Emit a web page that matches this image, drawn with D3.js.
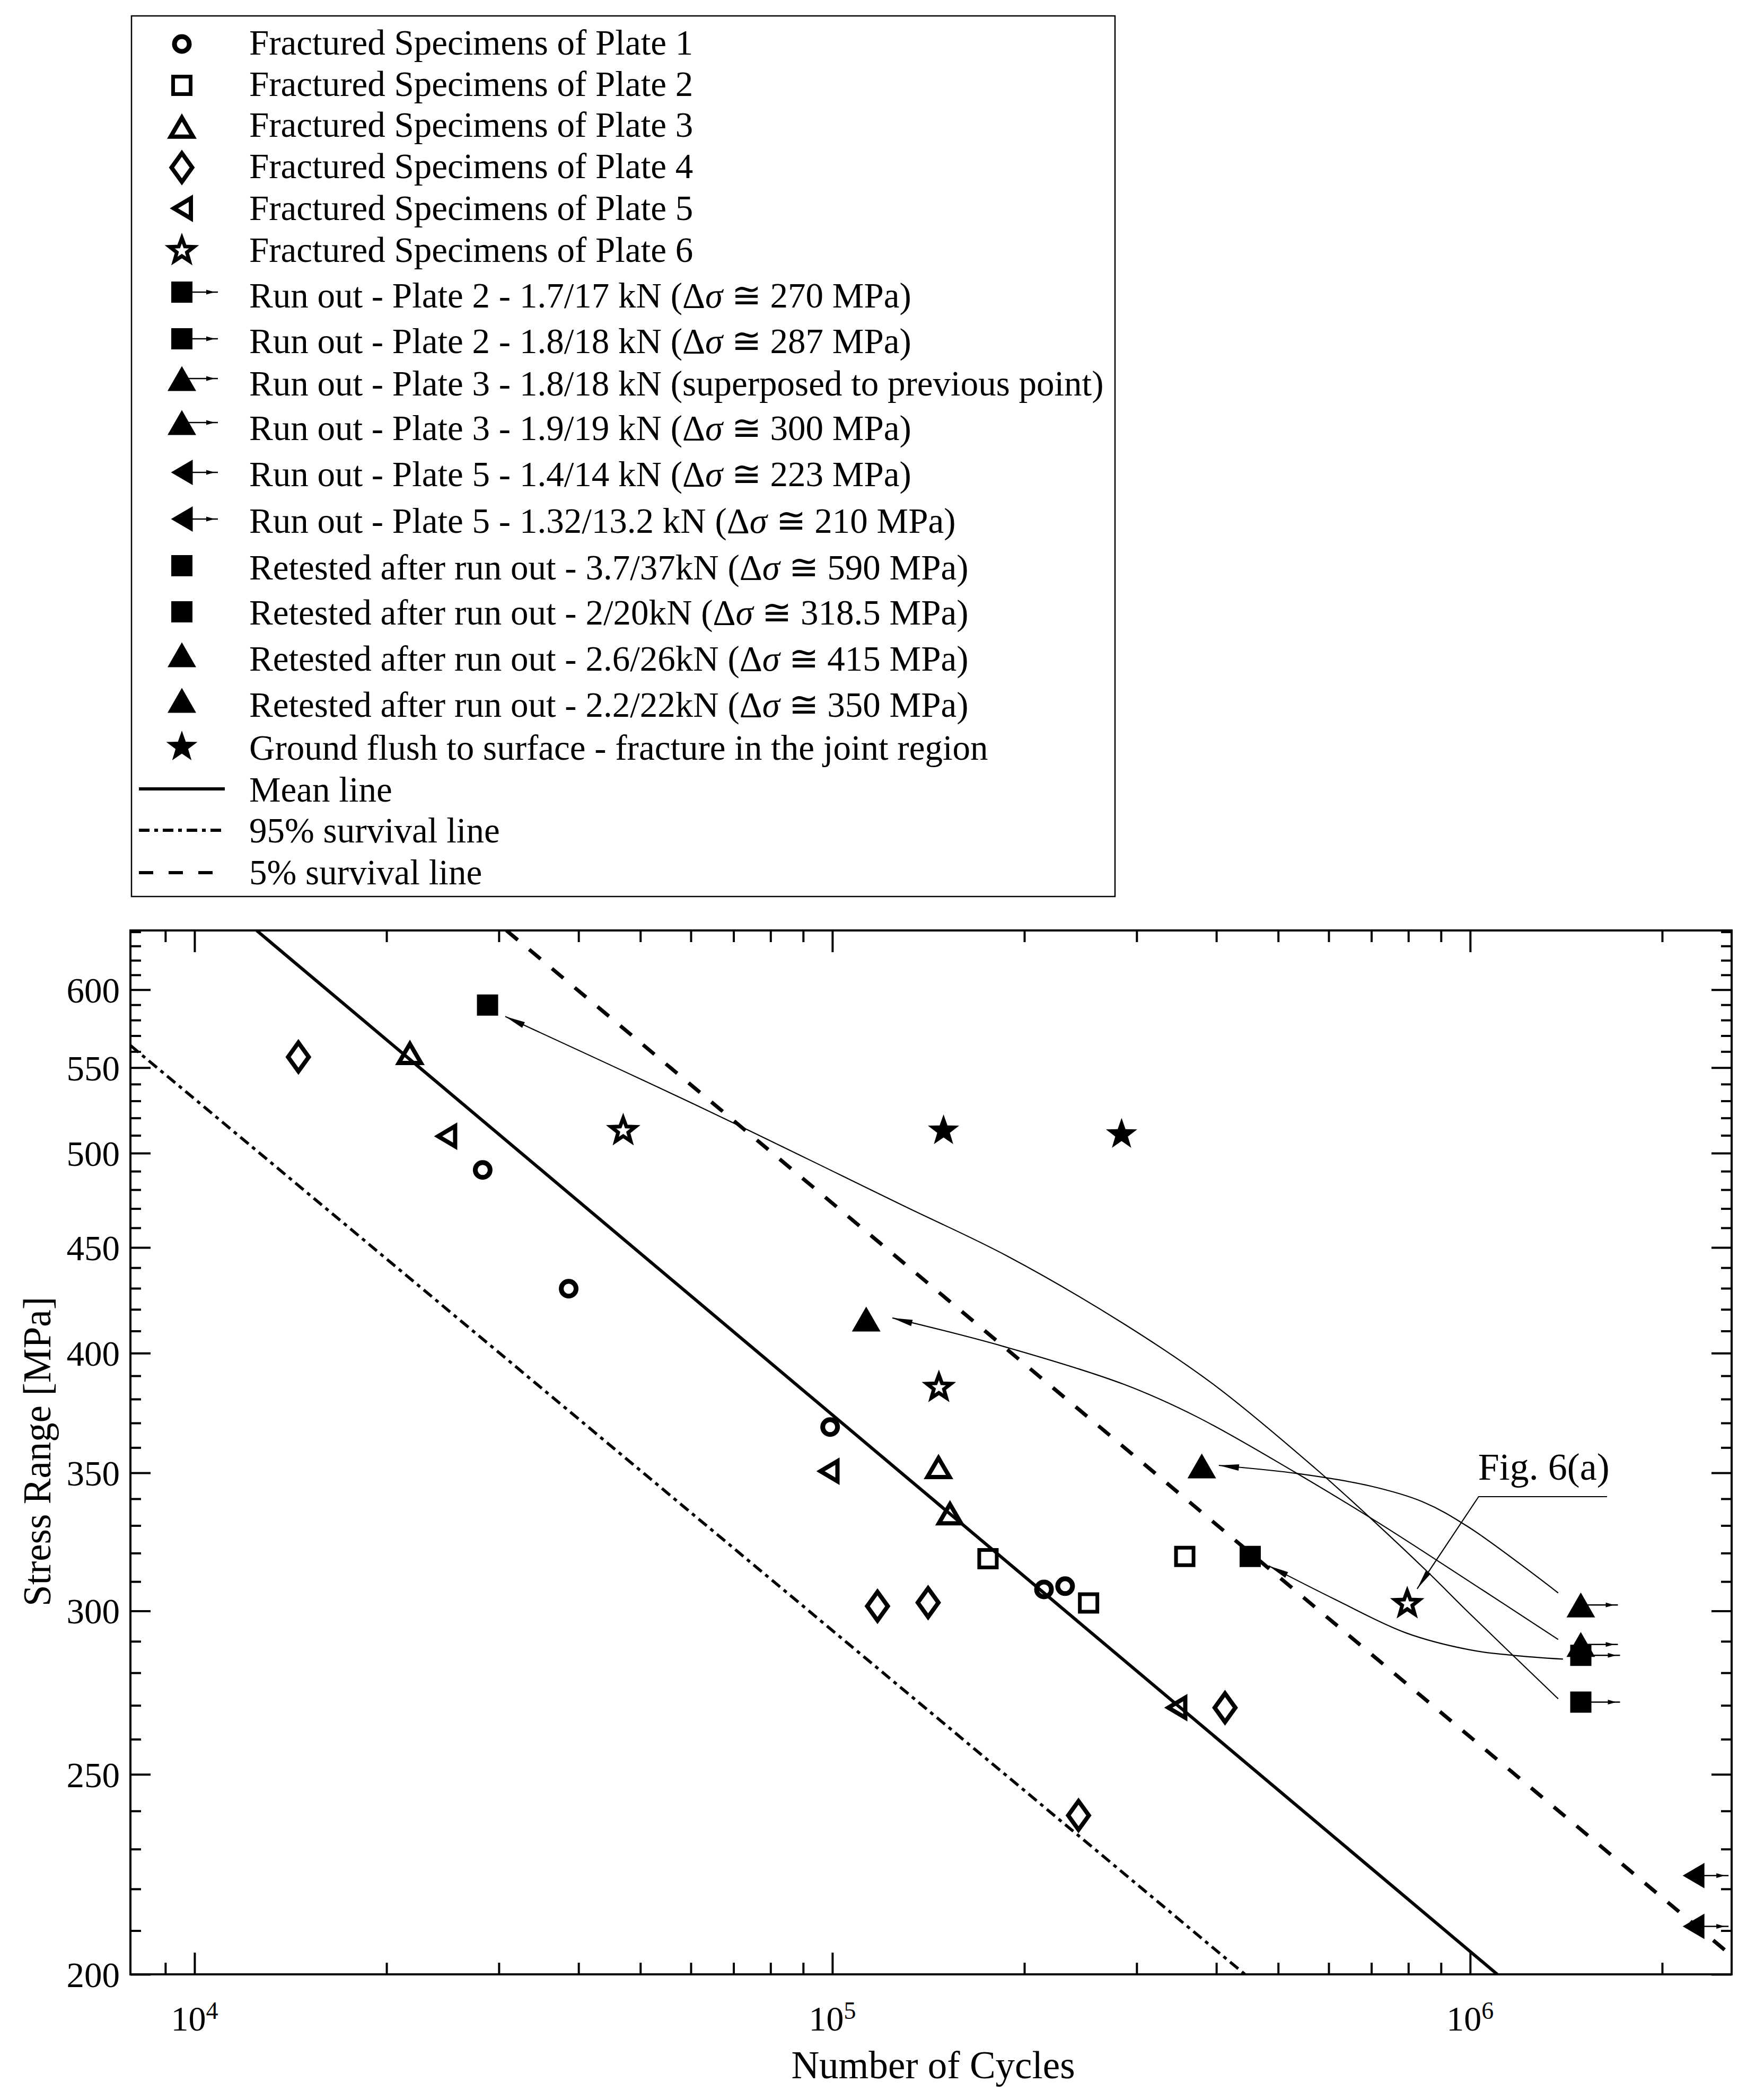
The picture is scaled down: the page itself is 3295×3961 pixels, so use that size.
<!DOCTYPE html>
<html><head><meta charset="utf-8">
<script src="https://cdn.jsdelivr.net/npm/d3@7"></script>
<style>
body{margin:0;background:#fff}
svg{display:block;background:#fff}
text{font-family:"Liberation Serif","Times New Roman",serif;fill:#000}
</style>
</head><body>
<svg id="chart" width="3295" height="3961"></svg>
<script>
// ---------------- DATA ----------------
// [Number of cycles, Stress range MPa]
const plate1 = [[28300,490.7],[38600,429.8],[99200,368.3],[214700,307.3],[231700,308.4]];
const plate2 = [[175400,318.0],[252200,302.7],[356900,318.8]];
const plate3 = [[21760,559.4],[146700,352.4],[152900,334.7]];
const plate4 = [[14550,556.6],[117700,301.6],[141300,302.8],[243200,238.8],[412700,269.3]];
const plate5 = [[24800,509.5],[98600,350.6],[346100,269.3]];
const plate6 = [[47000,512.6],[146900,384.9],[796800,302.4]];
const groundFlush = [[149400,512.6],[284100,510.5]];
const runOutSquares = [[1.491e6,271],[1.491e6,285.5]];
const runOutTriangles = [[1.491e6,289],[1.491e6,302]];
const runOutLeftTri = [[2.24e6,223.3],[2.24e6,211]];
const retestedSquares = [[28800,589.8],[452000,318.8]];
const retestedTriangles = [[113000,415.5],[379500,352.7]];

const meanLine = [[12510,641],[1.103e6,200]];
const line95 = [[7934,563.8],[443500,200]];
const line5 = [[30830,641],[2.57e6,204.2]];

// retest connectors (run-out -> retest), arrow at first point
const connA = [[30700,582.3],[62830,525.4],[128500,471.9],[188400,445.6],[287100,413.1],[397500,385.9],[571900,351.7],[696600,332.9],[859900,313.1],[996200,299.3],[1.3741e6,272.0]];
const connB = [[124200,416.0],[184900,403.1],[287100,386.2],[373200,372.5],[529700,350.4],[719500,330.9],[996200,310.1],[1.3741e6,290.6]];
const connC = [[403600,352.9],[539900,349.6],[696600,344.9],[843600,338.8],[996200,329.3],[1.3741e6,306.1]];
const connD = [[483200,315.5],[613800,303.9],[791800,292.8],[996200,287.3],[1.168e6,285.5],[1.398e6,284.3]];

const figLabel = "Fig. 6(a)";
const figLabelAt = [1.029e6,347.3];
const figLeader = [[1.639e6,340.8],[1.031e6,340.8],[8.258e5,307.5]];

const xDomain = [7934, 2.57e6];
const yDomain = [200, 641];
const yMajorTicks = [200,250,300,350,400,450,500,550,600];
const yMinorTicks = d3.range(210,641,10).filter(v => v % 50 !== 0);
const xMajorExps = [4,5,6];
const xMinorTicks = [9000,20000,30000,40000,50000,60000,70000,80000,90000,200000,300000,400000,500000,600000,700000,800000,900000,2000000];

const xTitle = "Number of Cycles";
const yTitle = "Stress Range [MPa]";

const legendLabels = [
 "Fractured Specimens of Plate 1",
 "Fractured Specimens of Plate 2",
 "Fractured Specimens of Plate 3",
 "Fractured Specimens of Plate 4",
 "Fractured Specimens of Plate 5",
 "Fractured Specimens of Plate 6",
 "Run out - Plate 2 - 1.7/17 kN (Δσ ≅ 270 MPa)",
 "Run out - Plate 2 - 1.8/18 kN (Δσ ≅ 287 MPa)",
 "Run out - Plate 3 - 1.8/18 kN (superposed to previous point)",
 "Run out - Plate 3 - 1.9/19 kN (Δσ ≅ 300 MPa)",
 "Run out - Plate 5 - 1.4/14 kN (Δσ ≅ 223 MPa)",
 "Run out - Plate 5 - 1.32/13.2 kN (Δσ ≅ 210 MPa)",
 "Retested after run out - 3.7/37kN (Δσ ≅ 590 MPa)",
 "Retested after run out - 2/20kN (Δσ ≅ 318.5 MPa)",
 "Retested after run out - 2.6/26kN (Δσ ≅ 415 MPa)",
 "Retested after run out - 2.2/22kN (Δσ ≅ 350 MPa)",
 "Ground flush to surface - fracture in the joint region",
 "Mean line",
 "95% survival line",
 "5% survival line"
];
const legendSymbols = ["circleO","squareO","triO","diamondO","leftO","starO",
 "squareF+","squareF+","triF+","triF+","leftF+","leftF+",
 "squareF","squareF","triF","triF","starF","solid","dashdot","dashed"];

// ---------------- LAYOUT ----------------
const svg = d3.select("#chart");
const L = 246, R = 3266, T = 1755, B = 3724;
const x = d3.scaleLog().domain(xDomain).range([L, R]);
const y = d3.scaleLog().domain(yDomain).range([B, T]);

function starPath(Ro, ri){
  const p=[];
  for(let i=0;i<10;i++){
    const a=-Math.PI/2+i*Math.PI/5, r=i%2===0?Ro:ri;
    p.push([(r*Math.cos(a)).toFixed(2),(r*Math.sin(a)).toFixed(2)]);
  }
  return "M"+p.map(q=>q.join(",")).join("L")+"Z";
}
const SYM = {
  circleO:  {d:"M14,0A14,14 0 1,1 -14,0A14,14 0 1,1 14,0Z", fill:"none", sw:9},
  squareO:  {d:"M-16.5,-16.5H16.5V16.5H-16.5Z", fill:"none", sw:7},
  triO:     {d:"M0,-16.3L21,19.7L-21,19.7Z", fill:"none", sw:8},
  diamondO: {d:"M0,-27L19.5,0L0,27L-19.5,0Z", fill:"none", sw:8},
  leftO:    {d:"M-15,0L17,-19L17,19Z", fill:"none", sw:8},
  starO:    {d:starPath(24,10), fill:"none", sw:7},
  squareF:  {d:"M-20,-20H20V20H-20Z", fill:"#000", sw:0},
  triF:     {d:"M0,-23.5L27,23.5L-27,23.5Z", fill:"#000", sw:0},
  leftF:    {d:"M-20.5,0L20.5,-24L20.5,24Z", fill:"#000", sw:0},
  starF:    {d:starPath(31,12.5), fill:"#000", sw:0}
};
function drawSym(g, type, cx, cy){
  const s = SYM[type];
  g.append("path").attr("d", s.d).attr("transform",`translate(${cx},${cy})`)
   .attr("fill", s.fill).attr("stroke","#000").attr("stroke-width", s.sw)
   .attr("stroke-linejoin","miter").attr("stroke-miterlimit",10);
}
function drawRunArrow(g, cx, cy, len, tipBack){
  g.append("line").attr("x1",cx).attr("y1",cy).attr("x2",cx+len).attr("y2",cy)
   .attr("stroke","#000").attr("stroke-width",2.5);
  const tip = cx+len-tipBack;
  g.append("path").attr("d",`M${tip},${cy}L${tip-16},${cy-4.5}L${tip-16},${cy+4.5}Z`).attr("fill","#000");
}

// clip
svg.append("defs").append("clipPath").attr("id","plotclip")
  .append("rect").attr("x",L).attr("y",T).attr("width",R-L).attr("height",B-T);

const plot = svg.append("g").attr("clip-path","url(#plotclip)");
const line = d3.line().x(d=>x(d[0])).y(d=>y(d[1]));

plot.append("path").attr("d",line(line95)).attr("fill","none").attr("stroke","#000")
  .attr("stroke-width",5.5).attr("stroke-dasharray","20,9,7,9");
plot.append("path").attr("d",line(meanLine)).attr("fill","none").attr("stroke","#000")
  .attr("stroke-width",6);
plot.append("path").attr("d",line(line5)).attr("fill","none").attr("stroke","#000")
  .attr("stroke-width",7).attr("stroke-dasharray","28,28");

// connectors
const curveGen = d3.line().x(d=>x(d[0])).y(d=>y(d[1])).curve(d3.curveCatmullRom.alpha(0.5));
function arrowHead(g, p0, p1, len, hw){
  const x0=x(p0[0]), y0=y(p0[1]), x1=x(p1[0]), y1=y(p1[1]);
  const dx=x1-x0, dy=y1-y0, n=Math.hypot(dx,dy), ux=dx/n, uy=dy/n;
  const bx=x0+ux*len, by=y0+uy*len;
  g.append("path").attr("d",`M${x0},${y0}L${bx-uy*hw},${by+ux*hw}L${bx+uy*hw},${by-ux*hw}Z`).attr("fill","#000");
}
[connA,connB,connC,connD].forEach(c=>{
  plot.append("path").attr("d",curveGen(c)).attr("fill","none").attr("stroke","#000").attr("stroke-width",2.2);
  arrowHead(plot, c[0], c[1], 38, 6);
});
// Fig 6(a) leader
plot.append("path").attr("d",line(figLeader)).attr("fill","none").attr("stroke","#000").attr("stroke-width",2.2);
arrowHead(plot, figLeader[2], figLeader[1], 38, 5.5);
svg.append("text").attr("x",x(figLabelAt[0])).attr("y",y(figLabelAt[1]))
  .attr("font-size",72).text(figLabel);

// markers
const mk = plot.append("g");
plate1.forEach(d=>drawSym(mk,"circleO",x(d[0]),y(d[1])));
plate2.forEach(d=>drawSym(mk,"squareO",x(d[0]),y(d[1])));
plate3.forEach(d=>drawSym(mk,"triO",x(d[0]),y(d[1])));
plate4.forEach(d=>drawSym(mk,"diamondO",x(d[0]),y(d[1])));
plate5.forEach(d=>drawSym(mk,"leftO",x(d[0]),y(d[1])));
plate6.forEach(d=>drawSym(mk,"starO",x(d[0]),y(d[1])));
groundFlush.forEach(d=>drawSym(mk,"starF",x(d[0]),y(d[1])));
retestedSquares.forEach(d=>drawSym(mk,"squareF",x(d[0]),y(d[1])));
retestedTriangles.forEach(d=>drawSym(mk,"triF",x(d[0]),y(d[1])));
runOutSquares.forEach(d=>{drawSym(mk,"squareF",x(d[0]),y(d[1])); drawRunArrow(mk,x(d[0]),y(d[1]),74,7);});
runOutTriangles.forEach(d=>{drawSym(mk,"triF",x(d[0]),y(d[1])); drawRunArrow(mk,x(d[0]),y(d[1]),70,7);});
runOutLeftTri.forEach(d=>{drawSym(mk,"leftF",x(d[0]),y(d[1])); drawRunArrow(mk,x(d[0]),y(d[1]),66,7);});

// axes (ticks inward)
const axStyle = g => { g.select(".domain").remove(); g.selectAll(".tick line").attr("stroke","#000").attr("stroke-width",4); };
const xMaj = xMajorExps.map(e=>Math.pow(10,e));
svg.append("g").attr("transform",`translate(0,${B})`)
  .call(d3.axisBottom(x).tickValues(xMaj).tickSizeInner(-41).tickSizeOuter(0).tickFormat(""))
  .call(axStyle);
svg.append("g").attr("transform",`translate(0,${B})`)
  .call(d3.axisBottom(x).tickValues(xMinorTicks).tickSizeInner(-22).tickSizeOuter(0).tickFormat(""))
  .call(axStyle);
svg.append("g").attr("transform",`translate(0,${T})`)
  .call(d3.axisTop(x).tickValues(xMaj).tickSizeInner(-41).tickSizeOuter(0).tickFormat(""))
  .call(axStyle);
svg.append("g").attr("transform",`translate(0,${T})`)
  .call(d3.axisTop(x).tickValues(xMinorTicks).tickSizeInner(-22).tickSizeOuter(0).tickFormat(""))
  .call(axStyle);
const yl = svg.append("g").attr("transform",`translate(${L},0)`)
  .call(d3.axisLeft(y).tickValues(yMajorTicks).tickSizeInner(-38).tickSizeOuter(0).tickPadding(20).tickFormat(d3.format("d")))
  .call(axStyle);
yl.selectAll(".tick text").attr("font-size",67).attr("font-family","Liberation Serif, serif").attr("fill","#000").attr("dy","0.35em");
svg.append("g").attr("transform",`translate(${L},0)`)
  .call(d3.axisLeft(y).tickValues(yMinorTicks).tickSizeInner(-20).tickSizeOuter(0).tickFormat(""))
  .call(axStyle);
svg.append("g").attr("transform",`translate(${R},0)`)
  .call(d3.axisRight(y).tickValues(yMajorTicks).tickSizeInner(-38).tickSizeOuter(0).tickFormat(""))
  .call(axStyle);
svg.append("g").attr("transform",`translate(${R},0)`)
  .call(d3.axisRight(y).tickValues(yMinorTicks).tickSizeInner(-20).tickSizeOuter(0).tickFormat(""))
  .call(axStyle);

// x tick labels 10^n
xMajorExps.forEach(e=>{
  const t = svg.append("text").attr("x",x(Math.pow(10,e))).attr("y",3830)
    .attr("text-anchor","middle").attr("font-size",66);
  t.append("tspan").text("10");
  t.append("tspan").attr("dy",-22).attr("font-size",46).text(String(e));
});

// frame
svg.append("rect").attr("x",L).attr("y",T).attr("width",R-L).attr("height",B-T)
  .attr("fill","none").attr("stroke","#000").attr("stroke-width",4);

// titles
svg.append("text").attr("x",1760).attr("y",3920).attr("text-anchor","middle")
  .attr("font-size",73).text(xTitle);
svg.append("text").attr("transform","translate(95,2738) rotate(-90)").attr("text-anchor","middle")
  .attr("font-size",73).text(yTitle);

// ---------------- LEGEND ----------------
const lg = svg.append("g");
lg.append("rect").attr("x",248).attr("y",30).attr("width",1855).attr("height",1661)
  .attr("fill","#fff").attr("stroke","#000").attr("stroke-width",2.5);
const symY = [83,161,238,316,393,473,551,639,714,797,891,979,1067,1154,1235,1321,1409,1488,1566,1646];
const txtY = [103,181,258,336,415,494,580,666,746,830,917,1005,1093,1178,1265,1352,1433,1512,1589,1668];
const symX = 343;
legendLabels.forEach((lab,i)=>{
  const s = legendSymbols[i], cy = symY[i];
  if (s==="solid"||s==="dashdot"||s==="dashed"){
    const ln = lg.append("line").attr("x1",262).attr("x2",424).attr("y1",cy).attr("y2",cy)
      .attr("stroke","#000");
    if (s==="solid") ln.attr("stroke-width",6);
    if (s==="dashdot") ln.attr("stroke-width",6).attr("stroke-dasharray","20,9,7,9");
    if (s==="dashed") ln.attr("stroke-width",6).attr("stroke-dasharray","27,29");
  } else {
    const base = s.replace("+","");
    drawSym(lg, base, symX, cy);
    if (s.endsWith("+")) drawRunArrow(lg, symX, cy, 68, 6);
  }
  const t = lg.append("text").attr("x",470).attr("y",txtY[i]).attr("font-size",67);
  const parts = lab.split("σ");
  parts.forEach((p,j)=>{
    t.append("tspan").text(p);
    if (j<parts.length-1) t.append("tspan").attr("font-style","italic").text("σ");
  });
});
</script>
</body></html>
